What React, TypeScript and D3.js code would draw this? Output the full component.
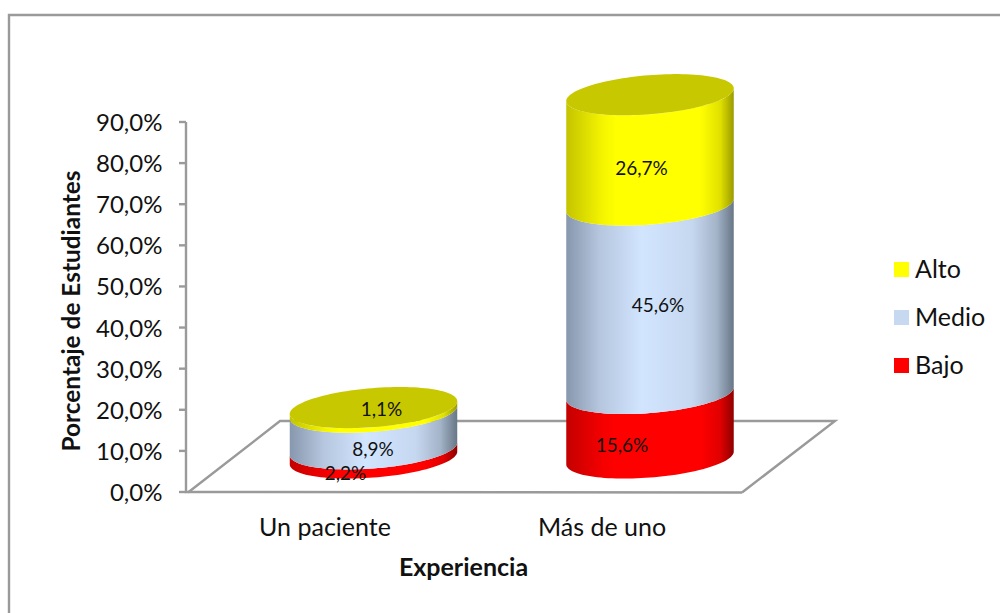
import React from 'react';
import * as d3 from 'd3';

const categories = ['Un paciente', 'Más de uno'];
const seriesNames = ['Bajo', 'Medio', 'Alto'];
const bajo = [2.2, 15.6];
const medio = [8.9, 45.6];
const alto = [1.1, 26.7];
const bajoLabels = ['2,2%', '15,6%'];
const medioLabels = ['8,9%', '45,6%'];
const altoLabels = ['1,1%', '26,7%'];
const yTicks = [0, 10, 20, 30, 40, 50, 60, 70, 80, 90];

const font = 'Lato, Carlito, sans-serif';
const grey = '#9a9a9a';

const W = 1000, H = 613;
const y = d3.scaleLinear().domain([0, 90]).range([492, 122]);
const cx = d3.scalePoint<string>().domain(categories).range([373.5, 650]);
const baseY = 458;
const cylScale = d3.scaleLinear().domain([0, 90]).range([baseY, baseY - 372]);
const A = 84, B = 19.5, TH = (-4.6 * Math.PI) / 180;

function ePoint(c: number, v: number, t: number): [number, number] {
  const ex = A * Math.cos(t), ey = B * Math.sin(t);
  return [c + ex * Math.cos(TH) - ey * Math.sin(TH), cylScale(v) + ex * Math.sin(TH) + ey * Math.cos(TH)];
}
const t0 = Math.atan2(-B * Math.sin(TH), A * Math.cos(TH));
const frontTs = d3.range(0, 61).map((i) => t0 + (Math.PI * i) / 60);
const line = d3.line();

function bandPath(c: number, v0: number, v1: number) {
  const lower = frontTs.map((t) => ePoint(c, v0, t));
  const upper = frontTs.map((t) => ePoint(c, v1, t)).reverse();
  return line([...lower, ...upper]) + 'Z';
}
function topPath(c: number, v: number) {
  return line(d3.range(0, 121).map((i) => ePoint(c, v, (2 * Math.PI * i) / 120))) + 'Z';
}

const stacks = categories.map((cat, i) => {
  const a = bajo[i], b = a + medio[i], c = b + alto[i];
  return { cat, c: cx(cat)!, levels: [0, a, b, c] };
});
const fills = ['url(#gRed)', 'url(#gBlue)', 'url(#gYellow)'];
const legendColors = ['#ff0000', '#c6d9f1', '#ffff00'];

const labelPos = [
  [[345.5, 480], [373, 456], [381.5, 416]],
  [[622, 452], [658, 312], [641.5, 175]],
];
const labelText = [bajoLabels, medioLabels, altoLabels];

function Grad({ id, stops }: { id: string; stops: [number, string][] }) {
  return (
    <linearGradient id={id} x1="0" x2="1" y1="0" y2="0">
      {stops.map(([o, c]) => <stop key={o} offset={o} stopColor={c} />)}
    </linearGradient>
  );
}

export default function App() {
  return (
    <svg width={W} height={H} style={{ position: 'absolute', left: 0, top: 0, background: '#fff' }}>
      <defs>
        <Grad id="gRed" stops={[[0, '#c40000'], [0.22, '#f50000'], [0.3, '#ff0000'], [0.8, '#ff0000'], [0.92, '#e00000'], [1, '#8e0000']]} />
        <Grad id="gBlue" stops={[[0, '#8797ad'], [0.2, '#b5c6de'], [0.45, '#d2e5ff'], [0.75, '#c6d8f0'], [0.9, '#a3b3c8'], [1, '#677786']]} />
        <Grad id="gYellow" stops={[[0, '#c4c400'], [0.22, '#f5f500'], [0.3, '#ffff00'], [0.8, '#ffff00'], [0.92, '#e0e000'], [1, '#9a9a00']]} />
      </defs>
      <path d="M9,613 L9,15 L1000,15" fill="none" stroke={grey} strokeWidth={2.4} />

      {/* floor */}
      <path d="M188,492.5 L280,421 L835,421 L742,492.5" fill="none" stroke={grey} strokeWidth={2.4} />
      <path d={`M186,${y(90)} L186,${y(0)} L742,${y(0) + 0.5}`} fill="none" stroke={grey} strokeWidth={2.4} />
      {yTicks.map((t) => (
        <g key={t}>
          <line x1={179} x2={186} y1={y(t)} y2={y(t)} stroke={grey} strokeWidth={2.4} />
          <text x={162.5} y={y(t) + 9} textAnchor="end" fontFamily={font} fontSize={24} fill="#111">
            {t.toFixed(1).replace('.', ',')}%
          </text>
        </g>
      ))}

      {stacks.map((s, i) => (
        <g key={s.cat}>
          {seriesNames.map((n, j) => (
            <path key={n} d={bandPath(s.c, s.levels[j], s.levels[j + 1])} fill={fills[j]} />
          ))}
          <path d={topPath(s.c, s.levels[3])} fill="#c8c800" />
          {seriesNames.map((n, j) => (
            <text key={n} x={labelPos[i][j][0]} y={labelPos[i][j][1]} textAnchor="middle" fontFamily={font} fontSize={19} fill="#111">
              {labelText[j][i]}
            </text>
          ))}
        </g>
      ))}

      <text x={325} y={536} textAnchor="middle" fontFamily={font} fontSize={25} fill="#111">{categories[0]}</text>
      <text x={602} y={536} textAnchor="middle" fontFamily={font} fontSize={25} fill="#111">{categories[1]}</text>
      <text x={463.5} y={576} textAnchor="middle" fontFamily={font} fontSize={25} fontWeight={700} fill="#111">Experiencia</text>
      <text transform="translate(80,311) rotate(-90)" textAnchor="middle" fontFamily={font} fontSize={24.4} fontWeight={700} fill="#111">Porcentaje de Estudiantes</text>

      {[...seriesNames].reverse().map((n, i) => {
        const j = 2 - i;
        const ly = 270 + i * 48;
        return (
          <g key={n}>
            <rect x={894} y={ly - 8} width={15} height={15} fill={legendColors[j]} />
            <text x={915} y={ly + 8} fontFamily={font} fontSize={25} fill="#111">{n}</text>
          </g>
        );
      })}
    </svg>
  );
}
